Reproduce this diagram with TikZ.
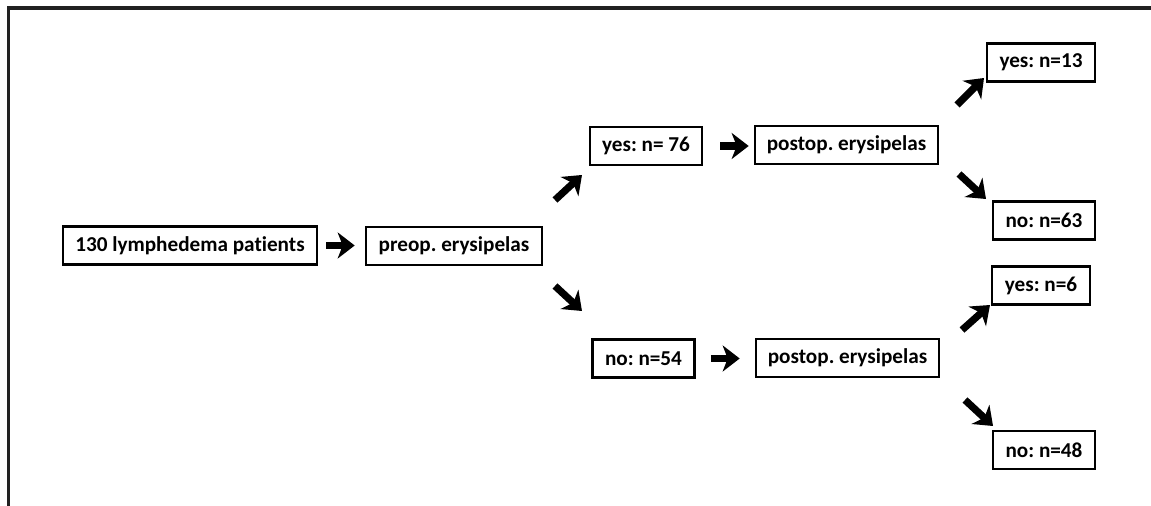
\documentclass[tikz,border=0pt]{standalone}
\usepackage{fontspec}
\setmainfont[Ligatures=NoCommon]{Carlito}
\usepackage{tikz}
\usetikzlibrary{arrows.meta}
\frenchspacing
\tikzset{box/.style={draw=black,line width=1.3pt,minimum height=19pt,inner sep=0pt,font=\fontsize{10.6}{12}\selectfont\bfseries}}
\tikzset{fatarrow/.style={line width=3.6pt,-{Stealth[length=8.5pt,width=13pt,inset=2.5pt]}}}

\begin{document}
\begin{tikzpicture}[x=0.5pt,y=-0.5pt]
\useasboundingbox (0,0) rectangle (1151,506);
\draw[black!87,line width=1.6pt] (8.5,506)--(8.5,8)--(1151,8);
\node[box,minimum width=127pt] (pat) at (190,245.5) {130 lymphedema patients};
\node[box,minimum width=88pt] (preop) at (454,246) {preop. erysipelas};
\node[box,minimum width=56pt] (yesA) at (646,146) {yes: n= 76};
\node[box,minimum width=51pt] (noA) at (643.5,358.5) {no: n=54};
\node[box,minimum width=91.5pt] (postA) at (846.5,145) {postop. erysipelas};
\node[box,minimum width=91.5pt] (postB) at (847.5,358) {postop. erysipelas};
\node[box,minimum width=54pt] (yesB) at (1041,62.5) {yes: n=13};
\node[box,minimum width=51pt] (noB) at (1044,220.5) {no: n=63};
\node[box,minimum width=49pt] (yesC) at (1041,285.5) {yes: n=6};
\node[box,minimum width=51pt] (noC) at (1044,450) {no: n=48};
\coordinate (upS) at (555,200);
\coordinate (upE) at (582,175);
\coordinate (dnS) at (555,286);
\coordinate (dnE) at (582,311);
\coordinate (upS2) at (957,105);
\coordinate (upE2) at (984,78);
\coordinate (dnS2) at (959,174);
\coordinate (dnE2) at (986,199);
\coordinate (upS3) at (962,330);
\coordinate (upE3) at (990,305);
\coordinate (dnS3) at (965,400);
\coordinate (dnE3) at (993,426);
\draw[fatarrow,shorten <=4pt,shorten >=5pt] (pat.east) -- (pat.east-|preop.west);
\draw[fatarrow,shorten <=8.5pt,shorten >=2.5pt] (yesA.east) -- (yesA.east-|postA.west);
\draw[fatarrow,shorten <=7.5pt,shorten >=7.5pt] (noA.east) -- (noA.east-|postB.west);
\draw[fatarrow] (upS) -- (upE);
\draw[fatarrow] (dnS) -- (dnE);
\draw[fatarrow] (upS2) -- (upE2);
\draw[fatarrow] (dnS2) -- (dnE2);
\draw[fatarrow] (upS3) -- (upE3);
\draw[fatarrow] (dnS3) -- (dnE3);
\end{tikzpicture}
\end{document}
